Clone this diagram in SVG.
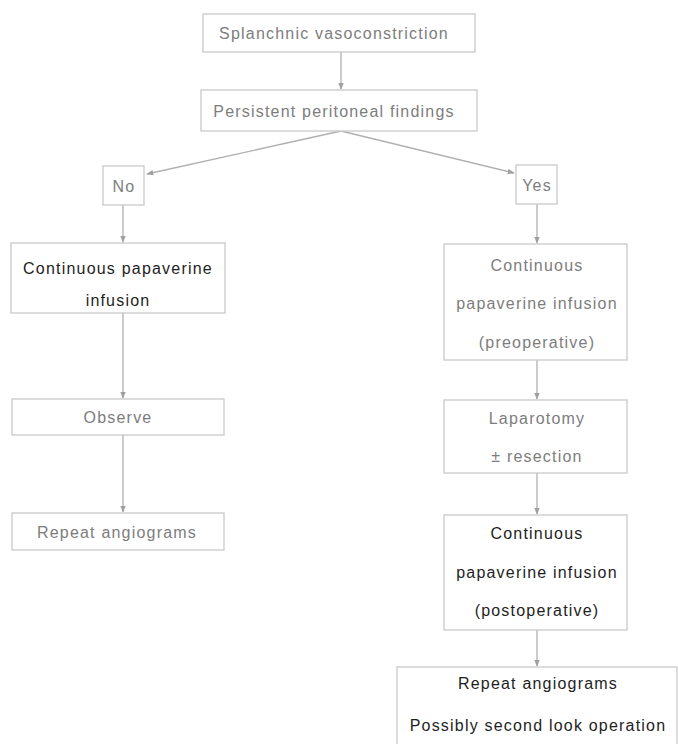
<svg xmlns="http://www.w3.org/2000/svg" width="678" height="744" viewBox="0 0 678 744">
  <style>
    .box { fill: #ffffff; stroke: #c9c9c9; stroke-width: 1.3; }
    .lt { font-family: "Liberation Sans", Arial, sans-serif; font-size: 16px; letter-spacing: 1.2px; fill: #7d7d7d; text-anchor: middle; }
    .dk { font-family: "Liberation Sans", Arial, sans-serif; font-size: 16px; letter-spacing: 1.2px; fill: #1e1e1e; text-anchor: middle; }
    .edge { stroke: #b0b0b0; stroke-width: 1.3; fill: none; marker-end: url(#arr); }
  </style>
  <defs>
    <marker id="arr" viewBox="0 0 10 10" refX="9" refY="5" markerWidth="7" markerHeight="7" markerUnits="userSpaceOnUse" orient="auto">
      <path d="M0,1 L10,5 L0,9 Z" fill="#a0a0a0"/>
    </marker>
  </defs>
  <rect width="678" height="744" fill="#ffffff"/>

  <g id="connectors">
    <line class="edge" x1="341" y1="52" x2="341" y2="89"/>
    <line class="edge" x1="341" y1="131" x2="147" y2="174"/>
    <line class="edge" x1="341" y1="131" x2="514" y2="173"/>
    <line class="edge" x1="123" y1="205" x2="123" y2="242"/>
    <line class="edge" x1="123" y1="313" x2="123" y2="398"/>
    <line class="edge" x1="123" y1="435" x2="123" y2="512"/>
    <line class="edge" x1="537" y1="204" x2="537" y2="243"/>
    <line class="edge" x1="537" y1="360" x2="537" y2="399"/>
    <line class="edge" x1="537" y1="473" x2="537" y2="514"/>
    <line class="edge" x1="537" y1="630" x2="537" y2="666"/>
  </g>

  <g id="splanchnic">
    <rect class="box" x="203" y="14" width="272" height="38"/>
    <text class="lt" x="334" y="39">Splanchnic vasoconstriction</text>
  </g>
  <g id="persistent">
    <rect class="box" x="201" y="90" width="276" height="41"/>
    <text class="lt" x="334" y="117">Persistent peritoneal findings</text>
  </g>
  <g id="no">
    <rect class="box" x="103" y="166" width="41" height="39"/>
    <text class="lt" x="124" y="192">No</text>
  </g>
  <g id="yes">
    <rect class="box" x="516" y="165" width="41" height="39"/>
    <text class="lt" x="537" y="191">Yes</text>
  </g>
  <g id="infusion-left">
    <rect class="box" x="11" y="243" width="214" height="70"/>
    <text class="dk" x="118" y="274">Continuous papaverine</text>
    <text class="dk" x="118" y="306">infusion</text>
  </g>
  <g id="observe">
    <rect class="box" x="12" y="399" width="212" height="36"/>
    <text class="lt" x="118" y="423">Observe</text>
  </g>
  <g id="repeat-left">
    <rect class="box" x="12" y="513" width="212" height="37"/>
    <text class="lt" x="117" y="538">Repeat angiograms</text>
  </g>
  <g id="infusion-preop">
    <rect class="box" x="444" y="244" width="183" height="116"/>
    <text class="lt" x="537" y="271">Continuous</text>
    <text class="lt" x="537" y="309">papaverine infusion</text>
    <text class="lt" x="537" y="348">(preoperative)</text>
  </g>
  <g id="laparotomy">
    <rect class="box" x="444" y="400" width="183" height="73"/>
    <text class="lt" x="537" y="424">Laparotomy</text>
    <text class="lt" x="537" y="462">± resection</text>
  </g>
  <g id="infusion-postop">
    <rect class="box" x="444" y="515" width="183" height="115"/>
    <text class="dk" x="537" y="539">Continuous</text>
    <text class="dk" x="537" y="578">papaverine infusion</text>
    <text class="dk" x="537" y="616">(postoperative)</text>
  </g>
  <g id="final">
    <rect class="box" x="397" y="667" width="280" height="80"/>
    <text class="dk" x="538" y="689">Repeat angiograms</text>
    <text class="dk" x="538" y="731">Possibly second look operation</text>
  </g>
</svg>
